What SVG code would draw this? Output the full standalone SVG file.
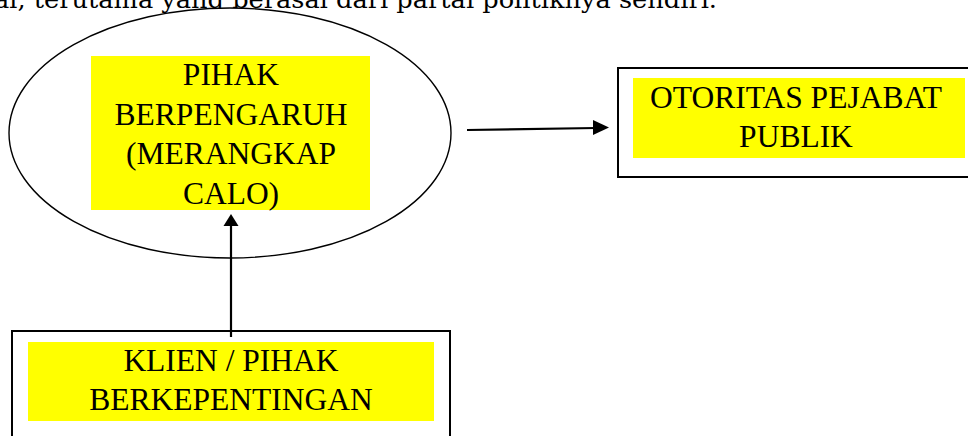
<svg xmlns="http://www.w3.org/2000/svg" width="968" height="436" viewBox="0 0 968 436">
  <style>
    .label { font-family: "Liberation Serif", "Times New Roman", serif; font-size: 31.5px; fill: #000; text-anchor: middle; }
    .body { font-family: "DejaVu Serif", "Liberation Serif", serif; font-size: 25px; fill: #000; }
    .frame { fill: #fff; stroke: #000; stroke-width: 2; }
    .hl { fill: #ffff00; }
    .edge { stroke: #000; stroke-width: 2.2; fill: none; }
    .head { fill: #000; }
  </style>

  <rect x="0" y="0" width="968" height="436" fill="#fff"/>

  <!-- running paragraph line above the figure -->
  <text class="body" x="-6" y="7.5" textLength="723" lengthAdjust="spacingAndGlyphs">al, terutama yang berasal dari partai politiknya sendiri.</text>

  <!-- broker / influential party -->
  <g id="node-pihak-berpengaruh">
    <ellipse cx="230" cy="133" rx="221" ry="125" fill="#fff" stroke="#000" stroke-width="1.4"/>
    <rect class="hl" x="91" y="56" width="279" height="154"/>
    <text class="label" x="231" y="85">PIHAK</text>
    <text class="label" x="231" y="124.5">BERPENGARUH</text>
    <text class="label" x="231" y="164">(MERANGKAP</text>
    <text class="label" x="231" y="203.5">CALO)</text>
  </g>

  <!-- public official -->
  <g id="node-otoritas">
    <rect class="frame" x="618" y="68" width="360" height="109"/>
    <rect class="hl" x="633" y="78" width="332" height="80"/>
    <text class="label" x="796" y="108">OTORITAS PEJABAT</text>
    <text class="label" x="796" y="147">PUBLIK</text>
  </g>

  <!-- client / interested party -->
  <g id="node-klien">
    <rect class="frame" x="12" y="331" width="438" height="120"/>
    <rect class="hl" x="28" y="342" width="406" height="79"/>
    <text class="label" x="231" y="371">KLIEN / PIHAK</text>
    <text class="label" x="231" y="410">BERKEPENTINGAN</text>
  </g>

  <g id="connectors">
    <line class="edge" x1="231" y1="337" x2="231" y2="224"/>
    <polygon class="head" points="231,214 238.5,226 223.5,226"/>
    <line class="edge" x1="467" y1="130" x2="596" y2="128"/>
    <polygon class="head" points="609,127.5 593,120 593,135"/>
  </g>
</svg>
